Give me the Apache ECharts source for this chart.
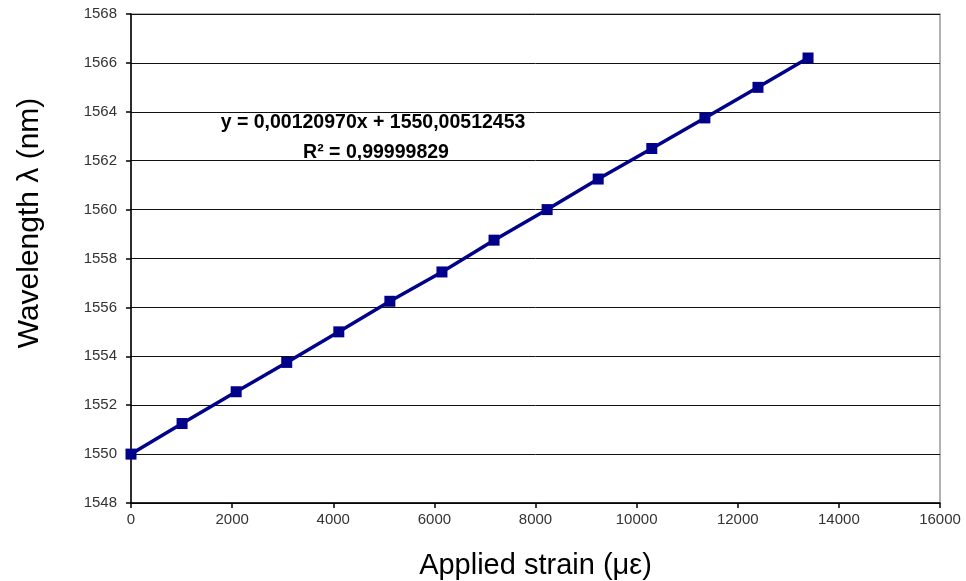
<!DOCTYPE html>
<html><head><meta charset="utf-8">
<script src="https://cdn.jsdelivr.net/npm/echarts@6/dist/echarts.min.js"></script>
<style>html,body{margin:0;padding:0;background:#fff}#c{width:966px;height:581px}</style>
</head><body><div id="c"></div>
<script>
const strain = [0, 1010, 2080, 3080, 4110, 5120, 6150, 7180, 8230, 9240, 10300, 11350, 12400, 13390];
const wavelength = [1550.0, 1551.25, 1552.55, 1553.75, 1555.0, 1556.25, 1557.45, 1558.75, 1560.0, 1561.25, 1562.5, 1563.75, 1565.0, 1566.2];
const equationLines = ['y = 0,00120970x + 1550,00512453', 'R² = 0,99999829'];
const xTitle = 'Applied strain (με)';
const yTitle = 'Wavelength λ (nm)';

const FONT = 'Liberation Sans, Arial, sans-serif';
const chart = echarts.init(document.getElementById('c'));
chart.setOption({
  backgroundColor: '#fff',
  animation: false,
  textStyle: {fontFamily: FONT},
  grid: {left: 131, right: 26, top: 14, bottom: 78, outerBoundsMode: 'none', containLabel: false,
         show: true, borderColor: '#999', borderWidth: 1.5, backgroundColor: 'transparent'},
  xAxis: {
    type: 'value', min: 0, max: 16000, interval: 2000,
    name: xTitle, nameLocation: 'middle', nameGap: 48,
    nameTextStyle: {fontSize: 29, color: '#000', fontFamily: FONT},
    axisLine: {show: true, onZero: false, lineStyle: {color: '#000', width: 1.5}},
    axisTick: {show: true, length: 5, lineStyle: {color: '#000', width: 1.5}},
    axisLabel: {fontSize: 15, color: '#333', margin: 9, formatter: v => String(v)},
    splitLine: {show: false}
  },
  yAxis: {
    type: 'value', min: 1548, max: 1568, interval: 2,
    axisLine: {show: true, lineStyle: {color: '#000', width: 1.5}},
    axisTick: {show: true, length: 5, lineStyle: {color: '#000', width: 1.5}},
    axisLabel: {fontSize: 15, color: '#333', margin: 14, formatter: v => String(v)},
    splitLine: {show: true, lineStyle: {color: '#111', width: 1}}
  },
  graphic: [{
    type: 'text', x: 30, y: 223, rotation: Math.PI / 2,
    style: {text: yTitle, font: '30px ' + FONT, fill: '#000', textAlign: 'center', textVerticalAlign: 'middle'}
  }, {
    type: 'text', x: 373, y: 123,
    style: {text: equationLines[0], font: 'bold 19.5px ' + FONT, fill: '#000', textAlign: 'center', textVerticalAlign: 'middle'}
  }, {
    type: 'text', x: 376, y: 153,
    style: {text: equationLines[1], font: 'bold 19.5px ' + FONT, fill: '#000', textAlign: 'center', textVerticalAlign: 'middle'}
  }],
  series: [{
    type: 'line',
    data: strain.map((x, i) => [x, wavelength[i]]),
    symbol: 'rect', symbolSize: 11,
    itemStyle: {color: '#00008b'},
    lineStyle: {color: '#00008b', width: 3.5}
  }]
});
</script>
</body></html>
